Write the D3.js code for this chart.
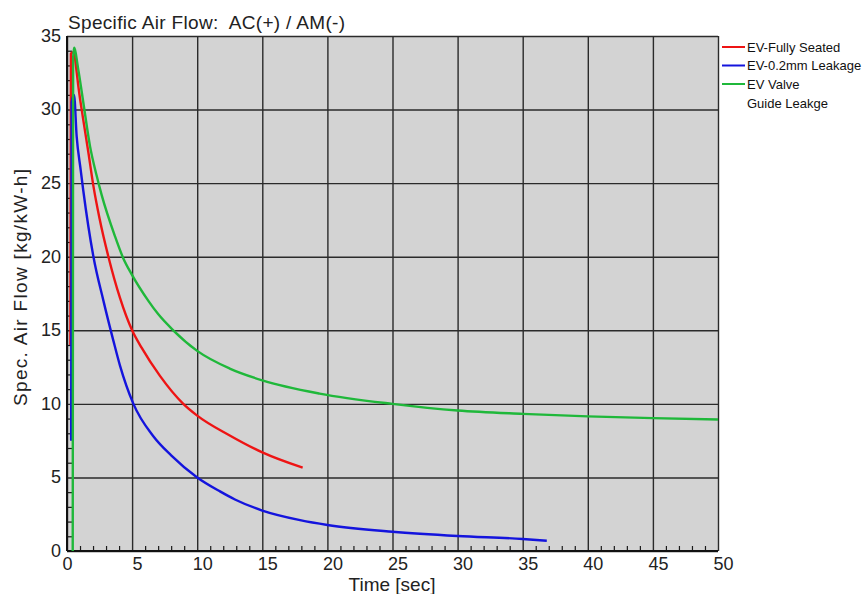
<!DOCTYPE html>
<html>
<head>
<meta charset="utf-8">
<script src="https://cdn.jsdelivr.net/npm/d3@7"></script>
<style>
  html, body { margin: 0; padding: 0; background: #ffffff; }
  svg { display: block; font-family: "Liberation Sans", Arial, sans-serif; }
</style>
</head>
<body>
<svg id="chart" width="863" height="594"></svg>
<script>
// Specific air flow traces, time [sec] vs spec. air flow [kg/kW-h]
const seriesNames = ["EV-Fully Seated", "EV-0.2mm Leakage", "EV Valve\nGuide Leakge"];
const seriesColors = ["#ee1414", "#1414dd", "#1fb83a"];

const fullySeatedTime = [0.26, 0.3, 0.5, 0.75, 0.87, 1.25, 1.64, 2.03, 2.5, 3.18, 4.07, 5.0, 5.74, 7.14, 8.93, 10, 12.5, 15, 18.1];
const fullySeatedFlow = [14, 33.8, 33.9, 32.5, 31.6, 29.3, 27.1, 24.8, 22.6, 20.0, 17.2, 15.0, 13.8, 11.9, 10.0, 9.2, 7.85, 6.7, 5.66];

const leakageTime = [0.32, 0.36, 0.54, 0.74, 1.05, 1.25, 2.03, 2.8, 3.56, 4.07, 5.1, 6.63, 8.0, 10, 11.75, 12.9, 15, 17.9, 20, 25, 30, 35, 36.85];
const leakageFlow = [7.5, 30.5, 31.0, 28.2, 25.9, 24.5, 20.0, 17.0, 14.3, 12.6, 10.0, 7.8, 6.5, 5.0, 4.05, 3.5, 2.75, 2.1, 1.77, 1.31, 1.02, 0.82, 0.70];

const guideTime = [0.44, 0.47, 0.54, 0.87, 1.25, 1.77, 2.28, 2.66, 3.68, 4.32, 4.97, 6.25, 7.0, 8.16, 10, 12.5, 15, 19.4, 25, 30, 35, 40, 45, 50];
const guideFlow = [0, 33.5, 34.2, 32.7, 30.5, 27.5, 25.5, 24.2, 21.4, 19.9, 18.8, 17.0, 16.1, 15.0, 13.6, 12.4, 11.6, 10.7, 10.0, 9.55, 9.32, 9.15, 9.03, 8.94];

const xMajorTicks = [0, 5, 10, 15, 20, 25, 30, 35, 40, 45, 50];
const yMajorTicks = [0, 5, 10, 15, 20, 25, 30, 35];

const chartTitle = "Specific Air Flow:  AC(+) / AM(-)";
const xTitle = "Time [sec]";
const yTitle = "Spec. Air Flow [kg/kW-h]";

const svg = d3.select("#chart");
const plotLeft = 67, plotTop = 36, plotRight = 718, plotBottom = 551;
const w = plotRight - plotLeft, h = plotBottom - plotTop;

const x = d3.scaleLinear().domain([0, 50]).range([plotLeft, plotRight]);
const y = d3.scaleLinear().domain([0, 35]).range([plotBottom, plotTop]);

// plot background
svg.append("rect").attr("x", plotLeft).attr("y", plotTop).attr("width", w).attr("height", h).attr("fill", "#d3d3d3");

const xMinor = d3.range(0, 51, 1).filter(d => d % 5 !== 0);
const yMinor = d3.range(0, 36, 1).filter(d => d % 5 !== 0);

// grid lines
svg.append("g").attr("transform", `translate(0,${plotBottom})`)
  .call(d3.axisBottom(x).tickValues(xMajorTicks).tickSize(-h).tickFormat(""))
  .call(g => g.select(".domain").remove())
  .call(g => g.selectAll("line").attr("stroke", "#2a2a2a").attr("stroke-width", 1.4));
svg.append("g").attr("transform", `translate(${plotLeft},0)`)
  .call(d3.axisLeft(y).tickValues(yMajorTicks).tickSize(-w).tickFormat(""))
  .call(g => g.select(".domain").remove())
  .call(g => g.selectAll("line").attr("stroke", "#2a2a2a").attr("stroke-width", 1.4));

// minor ticks pointing inward
svg.append("g").attr("transform", `translate(0,${plotBottom})`)
  .call(d3.axisBottom(x).tickValues(xMinor).tickSize(-5).tickFormat(""))
  .call(g => g.select(".domain").remove())
  .call(g => g.selectAll("line").attr("stroke", "#1a1a1a").attr("stroke-width", 1.2));
svg.append("g").attr("transform", `translate(${plotLeft},0)`)
  .call(d3.axisLeft(y).tickValues(yMinor).tickSize(-5).tickFormat(""))
  .call(g => g.select(".domain").remove())
  .call(g => g.selectAll("line").attr("stroke", "#1a1a1a").attr("stroke-width", 1.2));

// axis lines
svg.append("line").attr("x1", plotLeft).attr("x2", plotLeft).attr("y1", plotTop).attr("y2", plotBottom).attr("stroke", "#111").attr("stroke-width", 2);
svg.append("line").attr("x1", plotLeft).attr("x2", plotRight).attr("y1", plotBottom).attr("y2", plotBottom).attr("stroke", "#111").attr("stroke-width", 2);

// tick labels
svg.append("g").attr("transform", `translate(0,${plotBottom})`)
  .call(d3.axisBottom(x).tickValues(xMajorTicks).tickSize(0).tickPadding(6))
  .call(g => g.select(".domain").remove())
  .call(g => g.selectAll("text")
    .attr("font-size", 18).attr("fill", "#222")
    .attr("dx", d => d === 0 ? 0 : 5));
svg.append("g").attr("transform", `translate(${plotLeft},0)`)
  .call(d3.axisLeft(y).tickValues(yMajorTicks).tickSize(0).tickPadding(6))
  .call(g => g.select(".domain").remove())
  .call(g => g.selectAll("text").attr("font-size", 18).attr("fill", "#222").attr("dy", "0.3em"));
svg.selectAll(".tick text").attr("font-family", "Liberation Sans, Arial, sans-serif");

// titles
svg.append("text").attr("x", 68).attr("y", 29).attr("font-size", 19).attr("fill", "#222")
  .style("white-space", "pre").attr("textLength", 277).attr("lengthAdjust", "spacing").text(chartTitle);
svg.append("text").attr("x", 392).attr("y", 591).attr("text-anchor", "middle").attr("font-size", 19).attr("fill", "#222").text(xTitle);
svg.append("text").attr("transform", "translate(27,288) rotate(-90)").attr("x", -118)
  .attr("font-size", 19).attr("fill", "#222")
  .attr("textLength", 237).attr("lengthAdjust", "spacing").text(yTitle);

// series
const series = [
  { name: seriesNames[0], color: seriesColors[0], t: fullySeatedTime, v: fullySeatedFlow },
  { name: seriesNames[1], color: seriesColors[1], t: leakageTime, v: leakageFlow },
  { name: seriesNames[2], color: seriesColors[2], t: guideTime, v: guideFlow }
];
const line = d3.line().x(d => x(d[0])).y(d => y(d[1])).curve(d3.curveMonotoneX);
series.forEach(s => {
  svg.append("path")
    .datum(s.t.map((t, i) => [t, s.v[i]]))
    .attr("d", line)
    .attr("fill", "none")
    .attr("stroke", s.color)
    .attr("stroke-width", 2.4)
    .attr("stroke-linejoin", "round");
});

// legend
const legend = svg.append("g").attr("transform", "translate(722,47)");
const rowY = [0, 18.5, 37];
series.forEach((s, i) => {
  const g = legend.append("g").attr("transform", `translate(0,${rowY[i]})`);
  g.append("line").attr("x1", 0).attr("x2", 23).attr("y1", 0).attr("y2", 0).attr("stroke", s.color).attr("stroke-width", 2);
  const lines = s.name.split("\n");
  lines.forEach((ln, j) => {
    g.append("text").attr("x", 25).attr("y", j * 19).attr("dy", "0.35em")
      .attr("font-size", 13).attr("fill", "#111").text(ln);
  });
});
</script>
</body>
</html>
